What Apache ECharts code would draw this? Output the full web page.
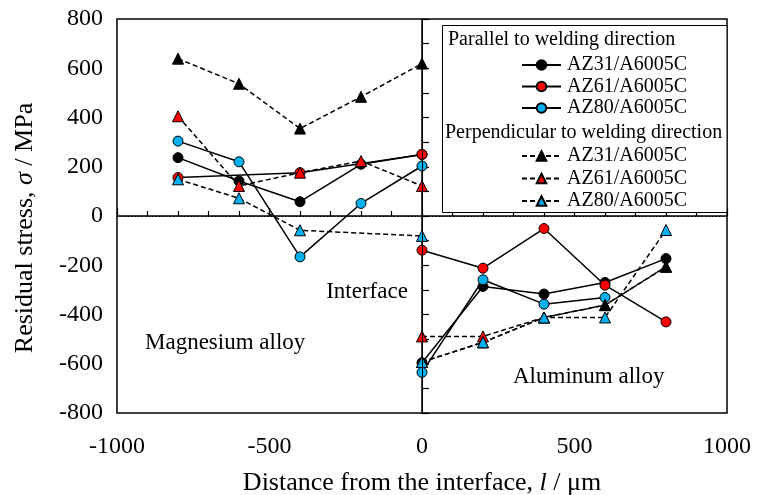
<!DOCTYPE html>
<html>
<head>
<meta charset="utf-8">
<script src="https://cdn.jsdelivr.net/npm/echarts@6/dist/echarts.min.js"></script>
<style>
  html, body { margin: 0; padding: 0; background: #fff; }
  #chart { width: 769px; height: 495px; }
</style>
</head>
<body>
<div id="chart"></div>
<script>
// distance from interface (um), magnesium side and aluminium side
const xLeft = [-800, -600, -400, -200, 0]
const xRight = [0, 200, 400, 600, 800]

// parallel to welding direction (MPa), null = no point
const az31ParLeft = [237, 142, 58, 210, 250]
const az31ParRight = [-596, -286, -317, -270, -173]
const az61ParLeft = [156, null, 176, null, 250]
const az61ParRight = [-139, -212, -51, -281, -430]
const az80ParLeft = [304, 220, -166, 51, 203]
const az80ParRight = [-635, -259, -358, -331, null]

// perpendicular to welding direction (MPa)
const az31PerLeft = [639, 537, 355, 484, 619]
const az31PerRight = [-593, -513, -412, -362, -206]
const az61PerLeft = [405, 122, 176, 223, 122]
const az61PerRight = [-489, -489, -412, -362, -206]
const az80PerLeft = [149, 72, -58, null, -81]
const az80PerRight = [-593, -513, -412, -412, -57]

const xTicks = [-1000, -500, 0, 500, 1000]
const yTicks = [-800, -600, -400, -200, 0, 200, 400, 600, 800]

const parNames = ['AZ31/A6005C', 'AZ61/A6005C', 'AZ80/A6005C']
// trailing space keeps the legend entries apart from the parallel ones
const perNames = parNames.map(n => n + ' ')

const FONT = 'Liberation Serif, Tinos, DejaVu Serif, serif'
const RED = '#ff0000'
const BLUE = '#00b0f0'

function pairs (xs, ys) {
  return xs.map((x, i) => [x, ys[i]]).filter(p => p[1] !== null)
}

const groups = [
  { name: parNames[0], left: az31ParLeft, right: az31ParRight, color: '#000', symbol: 'circle', dashed: false },
  { name: parNames[1], left: az61ParLeft, right: az61ParRight, color: RED, symbol: 'circle', dashed: false },
  { name: parNames[2], left: az80ParLeft, right: az80ParRight, color: BLUE, symbol: 'circle', dashed: false },
  { name: perNames[1], left: az61PerLeft, right: az61PerRight, color: RED, symbol: 'triangle', dashed: true },
  { name: perNames[0], left: az31PerLeft, right: az31PerRight, color: '#000', symbol: 'triangle', dashed: true },
  { name: perNames[2], left: az80PerLeft, right: az80PerRight, color: BLUE, symbol: 'triangle', dashed: true }
]

const series = []
groups.forEach(g => {
  [pairs(xLeft, g.left), pairs(xRight, g.right)].forEach(data => {
    series.push({
      name: g.name,
      type: 'line',
      data: data,
      symbol: g.symbol,
      symbolSize: g.symbol === 'circle' ? 10 : 11,
      lineStyle: { color: '#000', width: 1.5, type: g.dashed ? [5, 3] : 'solid' },
      itemStyle: { color: g.color, borderColor: '#000', borderWidth: 1 },
      emphasis: { disabled: true }
    })
  })
})

// zero line and interface line
series[0].markLine = {
  silent: true,
  symbol: ['none', 'none'],
  label: { show: false },
  data: [
    { yAxis: 0, lineStyle: { type: [1.5, 2], color: '#000', width: 1 } },
    { xAxis: 0, lineStyle: { type: 'solid', color: '#000', width: 1 } }
  ]
}

const legendBase = {
  orient: 'vertical',
  left: 521,
  padding: 0,
  itemWidth: 39,
  itemHeight: 12,
  selectedMode: false,
  z: 10,
  formatter: n => n.trim(),
  textStyle: { fontFamily: FONT, fontSize: 20, color: '#000', padding: [0, 0, 0, 1] }
}

const chart = echarts.init(document.getElementById('chart'))
chart.setOption({
  animation: false,
  backgroundColor: '#fff',
  grid: {
    left: 117, right: 42, top: 19, bottom: 82,
    outerBoundsMode: 'none', containLabel: false,
    show: true, borderColor: '#000', borderWidth: 1.5
  },
  xAxis: {
    type: 'value',
    min: xTicks[0],
    max: xTicks[xTicks.length - 1],
    interval: 500,
    name: 'Distance from the interface, {i|l} / μm',
    nameLocation: 'middle',
    nameGap: 57,
    nameTextStyle: {
      fontFamily: FONT, fontSize: 26, color: '#000',
      rich: { i: { fontFamily: FONT, fontSize: 26, fontStyle: 'italic', color: '#000' } }
    },
    axisLine: { lineStyle: { color: '#000', width: 1.5 } },
    axisTick: { inside: true, length: 8, lineStyle: { color: '#000', width: 1.2 } },
    minorTick: { show: true, splitNumber: 5, length: 5, lineStyle: { color: '#000', width: 1.2 } },
    splitLine: { show: false },
    axisLabel: { fontFamily: FONT, fontSize: 24, color: '#000', margin: 22, formatter: v => String(v) }
  },
  yAxis: {
    type: 'value',
    min: yTicks[0],
    max: yTicks[yTicks.length - 1],
    interval: 200,
    name: 'Residual stress, {i|σ} / MPa',
    nameLocation: 'middle',
    nameGap: 79,
    nameTextStyle: {
      fontFamily: FONT, fontSize: 26, color: '#000', padding: [0, 24, 0, 0],
      rich: { i: { fontFamily: FONT, fontSize: 26, fontStyle: 'italic', color: '#000' } }
    },
    axisLine: { lineStyle: { color: '#000', width: 1.5 } },
    axisTick: { inside: true, length: 7, lineStyle: { color: '#000', width: 1.2 } },
    minorTick: { show: true, splitNumber: 2, length: 7, lineStyle: { color: '#000', width: 1.2 } },
    splitLine: { show: false },
    axisLabel: { fontFamily: FONT, fontSize: 24, color: '#000', margin: 14, formatter: v => String(v) }
  },
  legend: [
    Object.assign({}, legendBase, { top: 55, itemGap: 1.5, data: parNames }),
    Object.assign({}, legendBase, { top: 146, itemGap: 2.5, data: perNames })
  ],
  graphic: [
    {
      type: 'rect', z: 5,
      shape: { x: 442.5, y: 25.5, width: 284.5, height: 187 },
      style: { fill: '#fff', stroke: '#000', lineWidth: 1 }
    },
    {
      type: 'text', z: 6, x: 448, y: 40,
      style: { text: 'Parallel to welding direction', font: '20px ' + FONT, fill: '#000', verticalAlign: 'middle' }
    },
    {
      type: 'text', z: 6, x: 445, y: 133,
      style: { text: 'Perpendicular to welding direction', font: '20px ' + FONT, fill: '#000', verticalAlign: 'middle' }
    },
    {
      type: 'text', z: 6, x: 367, y: 292,
      style: { text: 'Interface', font: '23px ' + FONT, fill: '#000', align: 'center', verticalAlign: 'middle' }
    },
    {
      type: 'text', z: 6, x: 145, y: 343,
      style: { text: 'Magnesium alloy', font: '23px ' + FONT, fill: '#000', verticalAlign: 'middle' }
    },
    {
      type: 'text', z: 6, x: 513, y: 377,
      style: { text: 'Aluminum alloy', font: '23px ' + FONT, fill: '#000', verticalAlign: 'middle' }
    }
  ],
  series: series
})
</script>
</body>
</html>
